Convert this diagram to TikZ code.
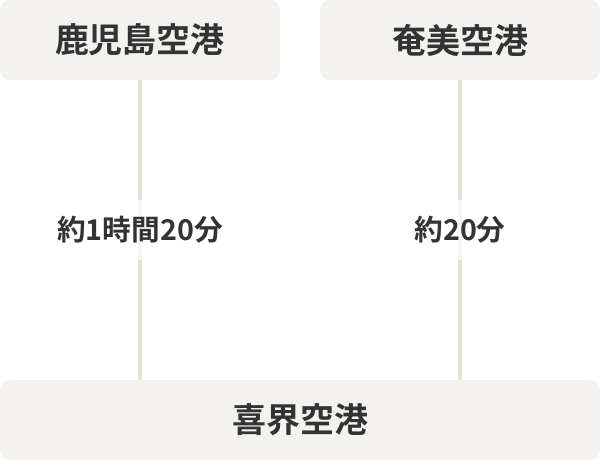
\documentclass[tikz,border=0pt]{standalone}
\usepackage{fontspec}
\newfontfamily\jpfont{Noto Sans CJK JP}[BoldFont={* Bold}]
\definecolor{boxfill}{RGB}{243,242,238}
\definecolor{linecol}{RGB}{230,227,210}
\definecolor{txt}{RGB}{51,51,51}
\begin{document}
\begin{tikzpicture}[x=0.75pt,y=-0.75pt,
  airport/.style={draw=none,fill=boxfill,rounded corners=7.5pt,inner sep=0pt,
    font=\jpfont\bfseries\fontsize{25.5pt}{30pt}\selectfont,text=txt},
  timelbl/.style={fill=white,fill opacity=0.7,text opacity=1,inner sep=0pt,
    minimum height=45pt,minimum width=40pt,
    font=\jpfont\bfseries\fontsize{21.5pt}{26pt}\selectfont,text=txt},
  route/.style={draw=linecol,line width=3pt}]
\useasboundingbox (0,0) rectangle (600,460);
\node[airport,minimum width=210pt,minimum height=60pt] (kago) at (140,40) {鹿児島空港};
\node[airport,minimum width=210pt,minimum height=60pt] (amami) at (460,40) {奄美空港};
\node[airport,minimum width=450pt,minimum height=60pt] (kikai) at (300,420) {喜界空港};
\coordinate (kb) at (140,380);
\coordinate (ab) at (460,380);
\draw[route] (kago.south) -- (kb);
\draw[route] (amami.south) -- (ab);
\node[timelbl] (t1) at (140,230) {約1時間20分};
\node[timelbl] (t2) at (460,230) {約20分};
\end{tikzpicture}
\end{document}
